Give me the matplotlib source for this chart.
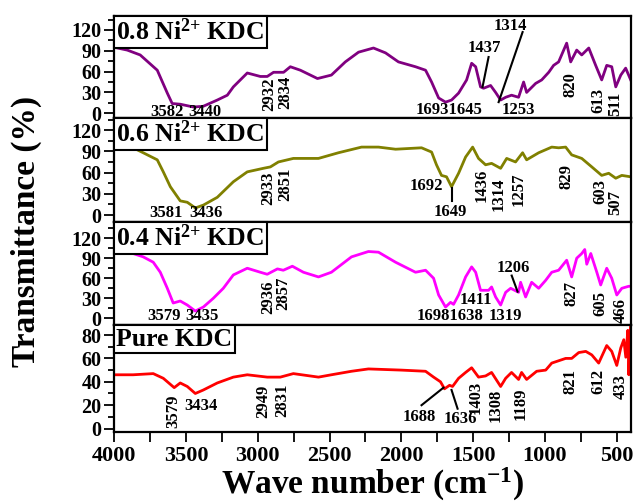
import matplotlib
matplotlib.use('Agg')
import matplotlib.pyplot as plt
from matplotlib.ticker import MultipleLocator

plt.rcParams['font.family'] = 'Liberation Serif'
plt.rcParams['font.weight'] = 'bold'
plt.rcParams['axes.labelweight'] = 'bold'
plt.rcParams['mathtext.fontset'] = 'custom'
plt.rcParams['mathtext.rm'] = 'Liberation Serif:bold'
plt.rcParams['mathtext.it'] = 'Liberation Serif:bold'
plt.rcParams['mathtext.bf'] = 'Liberation Serif:bold'
plt.rcParams['mathtext.default'] = 'bf'

# (wave number, transmittance)
KDC08 = [(4000, 95), (3909, 91), (3819, 84), (3700, 62), (3630, 29), (3596, 14), (3540, 13), (3449, 9),
         (3380, 10), (3282, 19), (3212, 26), (3170, 38), (3073, 58), (2982, 53), (2934, 53), (2890, 59),
         (2820, 59), (2773, 67), (2703, 62), (2584, 50), (2487, 55), (2390, 74), (2298, 88), (2194, 94),
         (2110, 87), (2020, 74), (1901, 67), (1831, 62), (1789, 45), (1740, 22), (1692, 16), (1650, 19),
         (1601, 29), (1545, 48), (1510, 72), (1482, 67), (1448, 38), (1427, 36), (1378, 40), (1343, 30),
         (1308, 19), (1273, 23), (1232, 26), (1183, 23), (1148, 45), (1127, 30), (1064, 43), (1022, 48),
         (973, 59), (939, 69), (904, 74), (848, 101), (820, 74), (778, 91), (743, 84), (694, 94),
         (646, 69), (604, 48), (569, 69), (534, 67), (506, 38), (471, 55), (437, 65), (402, 48)]

KDC06 = [(4000, 95), (3868, 95), (3798, 88), (3700, 78), (3658, 61), (3609, 40), (3540, 20), (3491, 18),
         (3435, 10), (3379, 14), (3282, 25), (3170, 47), (3073, 61), (2961, 66), (2912, 68), (2856, 75),
         (2752, 80), (2577, 80), (2438, 88), (2277, 96), (2159, 96), (2040, 93), (1859, 95), (1789, 89),
         (1755, 71), (1720, 56), (1685, 54), (1650, 40), (1601, 59), (1552, 82), (1503, 96), (1462, 80),
         (1413, 71), (1371, 73), (1308, 66), (1266, 80), (1204, 75), (1155, 88), (1127, 78), (1043, 88),
         (952, 96), (904, 95), (855, 96), (813, 85), (743, 80), (673, 68), (604, 56), (555, 59),
         (506, 52), (464, 56), (402, 54)]

KDC04 = [(4000, 99), (3868, 97), (3798, 92), (3728, 84), (3679, 69), (3630, 45), (3589, 23), (3540, 26),
         (3491, 20), (3435, 11), (3379, 17), (3310, 30), (3240, 45), (3170, 65), (3073, 75), (2982, 69),
         (2934, 66), (2863, 74), (2822, 72), (2759, 78), (2682, 69), (2577, 62), (2487, 69), (2347, 92),
         (2229, 100), (2159, 99), (2040, 84), (1901, 69), (1831, 72), (1775, 60), (1740, 35), (1692, 17),
         (1657, 24), (1636, 21), (1601, 35), (1552, 62), (1510, 77), (1482, 69), (1448, 42), (1392, 42),
         (1371, 47), (1343, 32), (1308, 20), (1273, 39), (1238, 45), (1183, 39), (1169, 54), (1134, 32),
         (1092, 54), (1043, 45), (994, 57), (952, 69), (904, 72), (848, 87), (813, 62), (778, 90),
         (743, 97), (722, 103), (708, 81), (680, 97), (638, 69), (611, 50), (569, 75), (534, 60),
         (499, 35), (464, 45), (416, 48), (402, 48)]

PURE = [(4000, 46), (3868, 46), (3728, 47), (3658, 43), (3582, 35), (3540, 39), (3491, 36), (3435, 30),
        (3379, 33), (3282, 39), (3170, 44), (3073, 46), (2934, 44), (2843, 44), (2752, 47), (2577, 44),
        (2487, 46), (2347, 49), (2229, 51), (2000, 50), (1831, 49), (1775, 44), (1727, 40), (1699, 34),
        (1664, 37), (1643, 36), (1601, 43), (1552, 48), (1510, 52), (1462, 44), (1413, 45), (1371, 48),
        (1308, 36), (1273, 43), (1232, 48), (1183, 42), (1162, 48), (1127, 42), (1057, 49), (994, 50),
        (952, 56), (855, 60), (813, 60), (764, 65), (715, 66), (673, 63), (625, 56), (569, 71),
        (534, 66), (499, 54), (471, 69), (450, 76), (436, 61), (422, 84), (415, 46), (402, 91)]

# peak labels: (text, x, y, rotation)
NOTES_08 = [('3582', 3630, 1.5, 0), ('3440', 3365, 1.5, 0), ('2932', 2919, 27, 90), ('2834', 2808, 30, 90),
            ('16931645', 1664, 4, 0), ('1253', 1183, 4, 0), ('1437', 1420, 94, 0), ('1314', 1238, 126, 0),
            ('820', 820, 42, 90), ('613', 625, 19, 90), ('511', 513, 13, 90)]
LINES_08 = [((1392, 81), (1434, 38)), ((1155, 117), (1322, 16))]

NOTES_06 = [('3581', 3637, 3, 0), ('3436', 3358, 3, 0), ('2933', 2926, 38, 90), ('2851', 2808, 44, 90),
            ('1692', 1824, 41, 0), ('1649', 1657, 4, 0), ('1436', 1441, 42, 90), ('1314', 1322, 29, 90),
            ('1257', 1183, 37, 90), ('829', 848, 54, 90), ('603', 611, 33, 90), ('507', 513, 18, 90)]
LINES_06 = [((1650, 38), (1650, 20))]

NOTES_04 = [('3579', 3651, 3, 0), ('3435', 3386, 3, 0), ('2936', 2926, 32, 90), ('2857', 2822, 37, 90),
            ('16981638', 1664, 3, 0), ('1319', 1273, 3, 0), ('1411', 1483, 27, 0), ('1206', 1217, 75, 0),
            ('827', 813, 37, 90), ('605', 611, 22, 90), ('466', 471, 12, 90)]
LINES_04 = [((1231, 64), (1190, 40))]

NOTES_PURE = [('3579', 3589, 15, 90), ('3434', 3393, 19, 0), ('2949', 2961, 23, 90), ('2831', 2828, 24, 90),
              ('1688', 1873, 10, 0), ('1636', 1587, 8.5, 0), ('1403', 1483, 27, 90), ('1308', 1343, 20, 90),
              ('1189', 1169, 21, 90), ('821', 820, 40, 90), ('612', 625, 40, 90), ('433', 471, 36, 90)]
LINES_PURE = [((1859, 20), (1706, 35)), ((1608, 17), (1650, 33))]

panels = [
    ('0.8 Ni$^{2{+}}$ KDC', KDC08, '#800080', (-7, 140), 30, 15, NOTES_08, LINES_08),
    ('0.6 Ni$^{2{+}}$ KDC', KDC06, '#808000', (-10, 137), 30, 15, NOTES_06, LINES_06),
    ('0.4 Ni$^{2{+}}$ KDC', KDC04, '#ff00ff', (-10, 144), 30, 15, NOTES_04, LINES_04),
    ('Pure KDC', PURE, '#ff0000', (-3, 88.5), 20, 10, NOTES_PURE, LINES_PURE),
]

fig, axes = plt.subplots(4, 1, figsize=(6.38, 5.03), dpi=100, sharex=True,
                         gridspec_kw=dict(height_ratios=[102, 104, 103, 107], hspace=0))
fig.subplots_adjust(left=0.179, right=0.989, top=0.968, bottom=0.141)

for ax, (title, data, color, ylim, major, minor, notes, lines) in zip(axes, panels):
    x = [p[0] for p in data]
    y = [p[1] for p in data]
    ax.plot(x, y, color=color, lw=2.0)
    ax.set_xlim(4000, 400)
    ax.set_ylim(*ylim)
    ax.yaxis.set_major_locator(MultipleLocator(major))
    ax.yaxis.set_minor_locator(MultipleLocator(minor))
    ax.tick_params(axis='y', which='major', length=7, width=1.3, labelsize=14.5, pad=2)
    ax.tick_params(axis='y', which='minor', length=4, width=1.3)
    ax.tick_params(axis='x', which='both', length=0)
    for s in ax.spines.values():
        s.set_linewidth(1.6)
    for txt, nx, ny, rot in notes:
        ax.text(nx, ny, txt, rotation=rot, ha='center', va='center', fontsize=12)
    for (x0, y0), (x1, y1) in lines:
        ax.plot([x0, x1], [y0, y1], color='black', lw=1.5)
    ax.text(0.004, 0.975, title, transform=ax.transAxes, ha='left', va='top', fontsize=18.5,
            bbox=dict(boxstyle='square,pad=0.1', fc='white', ec='black', lw=1.5))

ax = axes[-1]
ax.xaxis.set_major_locator(MultipleLocator(500))
ax.xaxis.set_minor_locator(MultipleLocator(250))
ax.tick_params(axis='x', which='both', length=7, width=1.3, labelsize=16, pad=3)
ax.set_xlabel('Wave number (cm$^{-1}$)', fontsize=24, fontweight='bold', labelpad=0)

fig.text(0.042, 0.54, 'Transmittance (%)', rotation=90, ha='center', va='center',
         fontsize=24, fontweight='bold')

fig.savefig('out.png', dpi=100)
